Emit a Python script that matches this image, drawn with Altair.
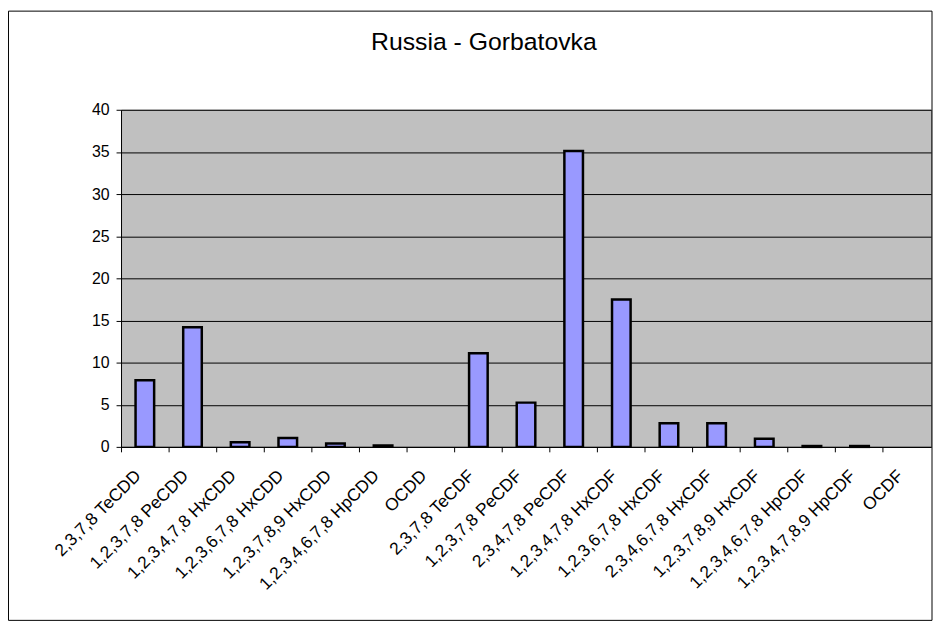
import altair as alt
import pandas as pd

title_text = "Russia - Gorbatovka"
categories = [
    "2,3,7,8 TeCDD", "1,2,3,7,8 PeCDD", "1,2,3,4,7,8 HxCDD", "1,2,3,6,7,8 HxCDD",
    "1,2,3,7,8,9 HxCDD", "1,2,3,4,6,7,8 HpCDD", "OCDD", "2,3,7,8 TeCDF",
    "1,2,3,7,8 PeCDF", "2,3,4,7,8 PeCDF", "1,2,3,4,7,8 HxCDF", "1,2,3,6,7,8 HxCDF",
    "2,3,4,6,7,8 HxCDF", "1,2,3,7,8,9 HxCDF", "1,2,3,4,6,7,8 HpCDF",
    "1,2,3,4,7,8,9 HpCDF", "OCDF",
]
values = [7.9, 14.2, 0.55, 1.05, 0.4, 0.15, 0, 11.1, 5.25, 35.1, 17.5, 2.8, 2.8, 0.95, 0.1, 0.1, 0]
y_ticks = [0, 5, 10, 15, 20, 25, 30, 35, 40]

df = pd.DataFrame({"cat": categories, "value": values})

W, H = 817, 340
PL, PT, PR, PB = 114, 100, 2, 176
FONT = "Arial, Liberation Sans, sans-serif"

x_enc = alt.X(
    "cat:N", sort=categories, title=None,
    scale=alt.Scale(domain=categories, paddingInner=0, paddingOuter=0),
    axis=alt.Axis(
        labelAngle=-45, labelAlign="right", labelBaseline="top",
        labelFont=FONT, labelFontSize=17.5, labelColor="black", labelPadding=15,
        labelOffset=-13, bandPosition=0, tickSize=5, tickColor="black",
        domainColor="black", grid=False, labelOverlap=False, labelLimit=400,
    ),
)
y_enc = alt.Y(
    "value:Q", title=None,
    scale=alt.Scale(domain=[0, 40], nice=False),
    axis=alt.Axis(
        values=y_ticks, labelFont=FONT, labelFontSize=16, labelColor="black",
        tickSize=5, tickColor="black", domainColor="black",
        gridColor="black", gridWidth=1, labelPadding=7,
    ),
)

bars = alt.Chart(df).transform_filter("datum.value > 0").mark_bar(
    fill="#9999FF", stroke="black", strokeWidth=2.5,
    width=alt.RelativeBandSize(0.39),
).encode(x=x_enc, y=y_enc)

tdf = pd.DataFrame({"t": [title_text]})
title = alt.Chart(tdf).mark_text(
    font=FONT, fontSize=25, color="black", align="center", baseline="alphabetic", clip=False,
).encode(text="t:N", x=alt.value(488 - 122), y=alt.value(48 - 108))

border = alt.Chart(tdf).mark_rect(
    fill=None, stroke="black", strokeWidth=1, clip=False,
).encode(
    x=alt.value(-PL + 0.5), x2=alt.value(W + PR - 1),
    y=alt.value(-PT + 0.5), y2=alt.value(H + PB - 1),
)

chart = alt.layer(bars, title, border).properties(
    width=W, height=H,
    autosize=alt.AutoSizeParams(type="none"),
    padding={"left": PL, "top": PT, "right": PR, "bottom": PB},
    background="white",
).configure_view(
    fill="#C0C0C0", stroke="#808080", strokeWidth=1,
)

chart.save("out.html", embed_options={"renderer": "svg", "actions": False})
